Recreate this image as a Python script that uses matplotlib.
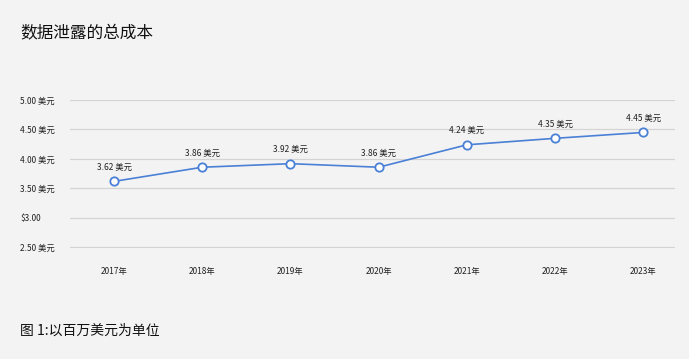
import matplotlib
matplotlib.use("Agg")
import matplotlib.pyplot as plt

plt.rcParams['font.family'] = ['Noto Sans CJK SC', 'DejaVu Sans']

years = ["2017年", "2018年", "2019年", "2020年", "2021年", "2022年", "2023年"]
costs = [3.62, 3.86, 3.92, 3.86, 4.24, 4.35, 4.45]
point_labels = ["3.62 美元", "3.86 美元", "3.92 美元", "3.86 美元", "4.24 美元", "4.35 美元", "4.45 美元"]
ytick_vals = [2.5, 3.0, 3.5, 4.0, 4.5, 5.0]
ytick_labels = ["2.50 美元", "\\$3.00", "3.50 美元", "4.00 美元", "4.50 美元", "5.00 美元"]
title = "数据泄露的总成本"
caption = "图 1:以百万美元为单位"

bg = "#f3f3f3"
line_color = "#4a80d6"

fig = plt.figure(figsize=(6.89, 3.59), dpi=100, facecolor=bg)
ax = fig.add_axes([70/689, 1-248/359, (675-70)/689, (248-100)/359])
ax.set_facecolor(bg)

x = list(range(len(years)))
ax.plot(x, costs, color=line_color, linewidth=1.2, marker='o', markersize=6,
        markerfacecolor='white', markeredgecolor=line_color, markeredgewidth=1.3, zorder=3)
for xi, yi, lab in zip(x, costs, point_labels):
    ax.annotate(lab, (xi, yi), xytext=(0, 7), textcoords='offset points',
                ha='center', va='bottom', fontsize=6, color='#222222')

ax.set_xlim(-0.5, 6.36)
ax.set_ylim(2.49, 5.0)
ax.set_yticks(ytick_vals)
ax.set_yticklabels(ytick_labels)
ax.set_xticks(x)
ax.set_xticklabels(years)
ax.tick_params(axis='both', length=0, labelsize=6, colors='#222222')
ax.tick_params(axis='x', pad=14)
for lab in ax.get_yticklabels():
    lab.set_horizontalalignment('left')
ax.yaxis.set_tick_params(pad=36)
ax.grid(axis='y', color='#d4d4d4', linewidth=0.9)
ax.set_axisbelow(True)
for s in ax.spines.values():
    s.set_visible(False)

fig.text(20/689, 1-34/359, title, fontsize=12, va='center', ha='left', color='#111111')
fig.text(20/689, 1-331/359, caption, fontsize=10, va='center', ha='left', color='#111111')

fig.savefig("out.png", dpi=100, facecolor=bg)
